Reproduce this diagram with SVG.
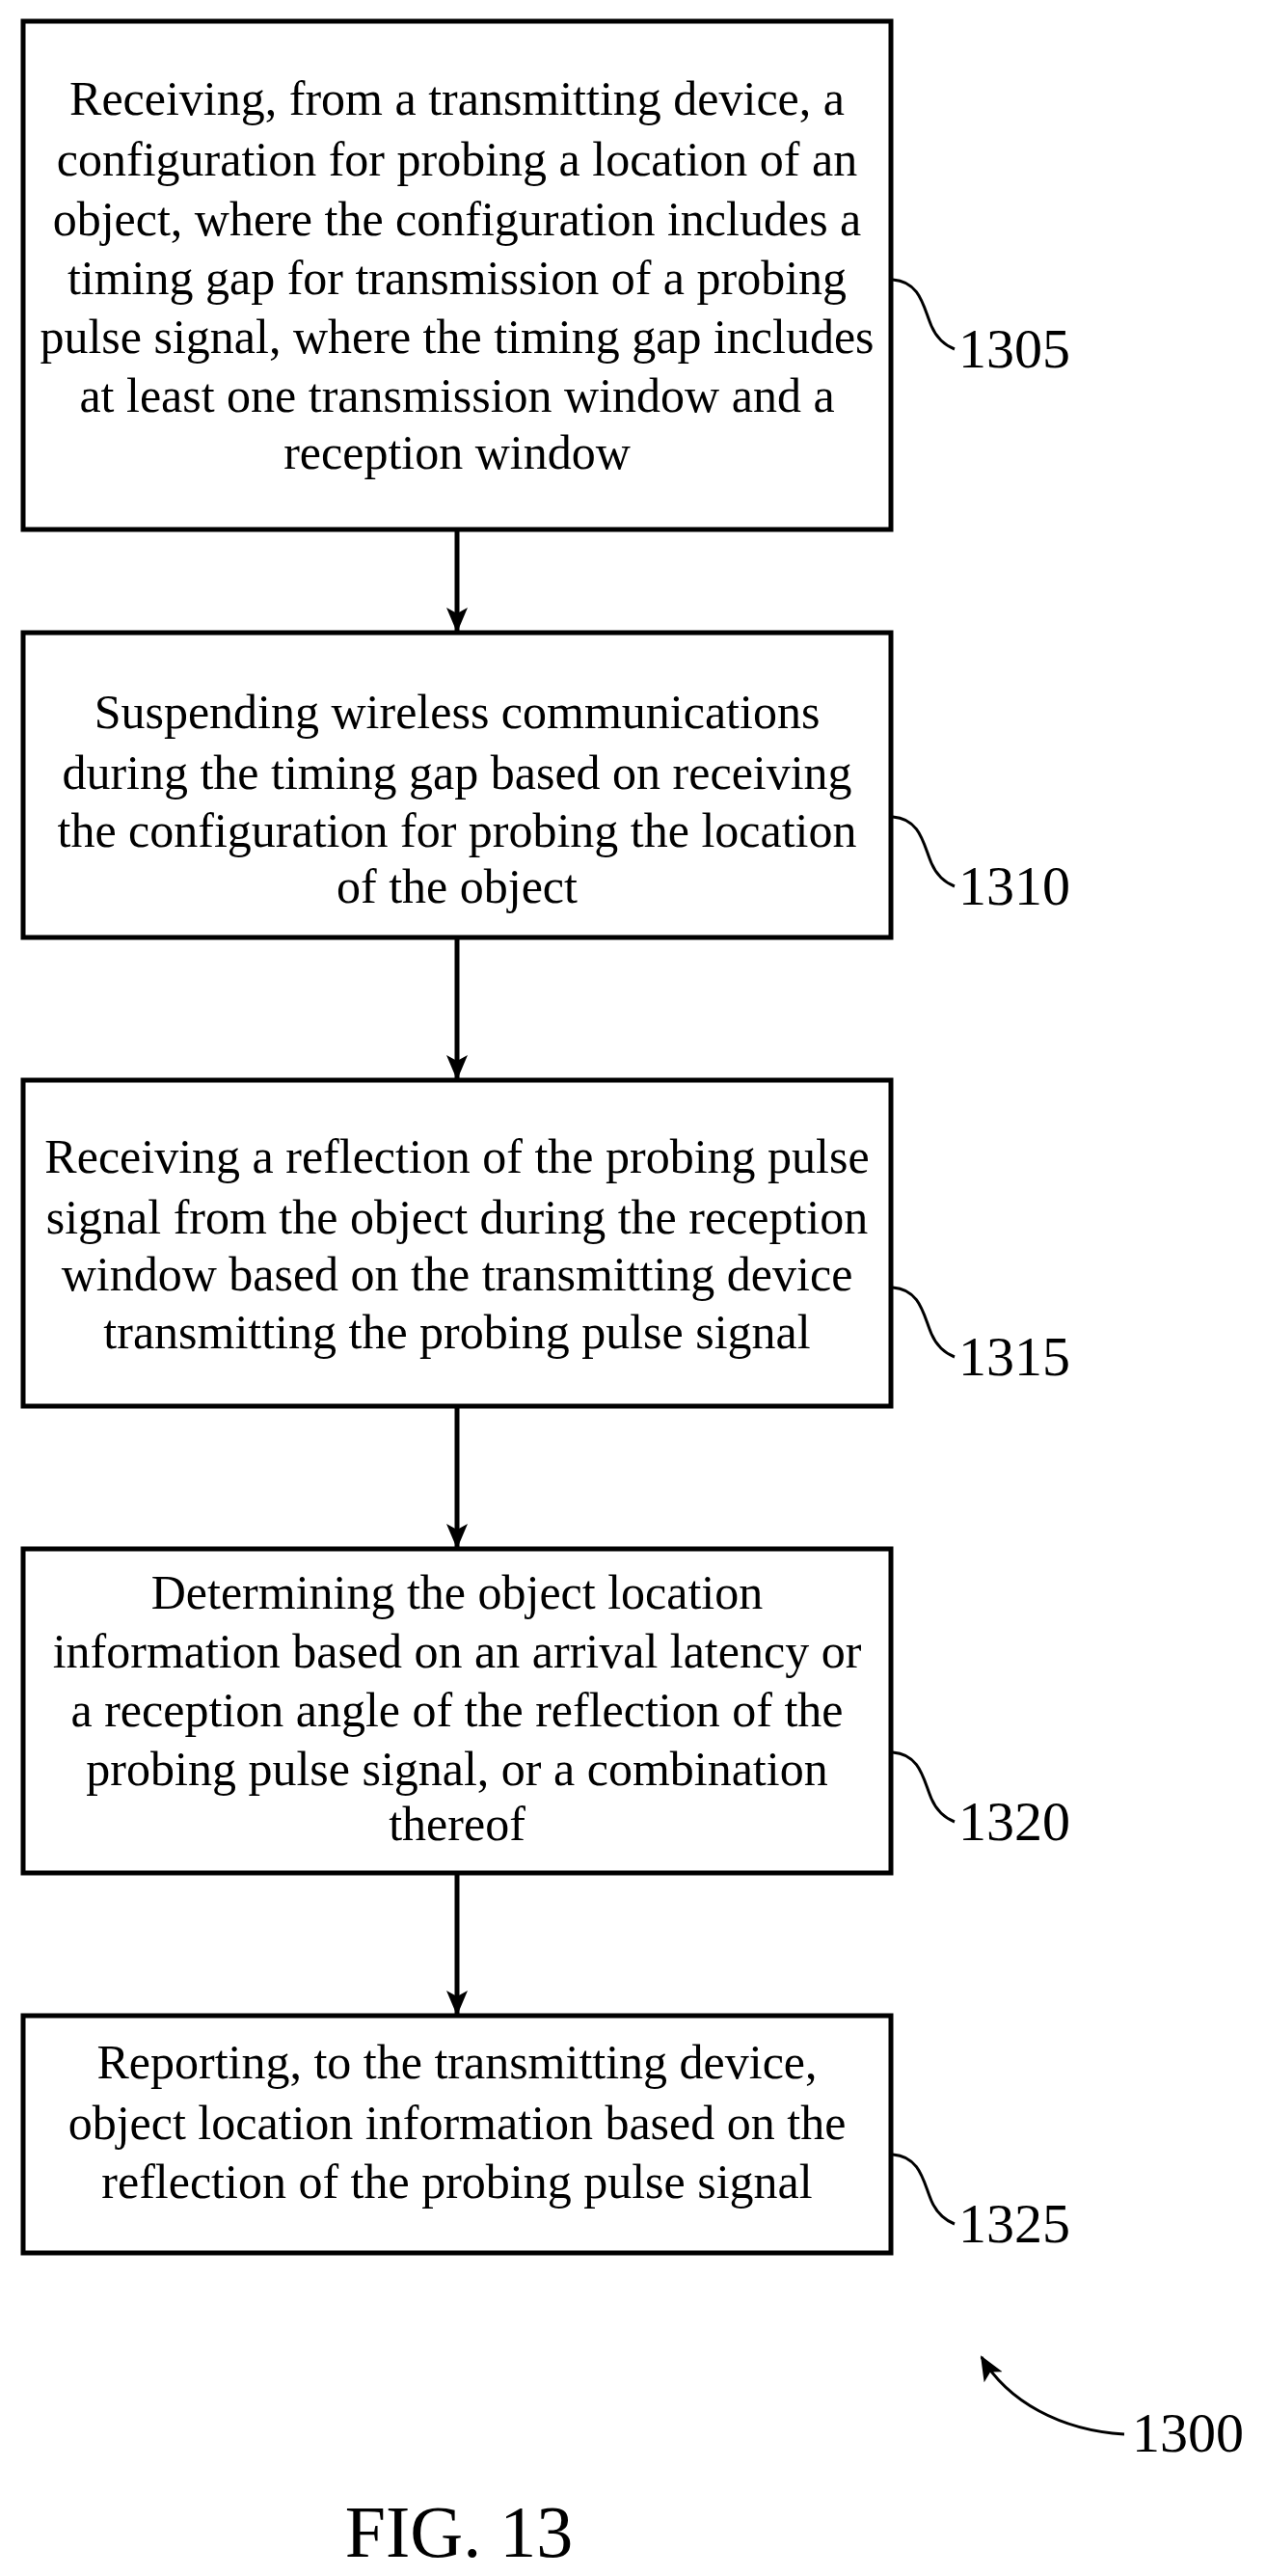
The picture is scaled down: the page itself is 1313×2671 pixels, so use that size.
<svg xmlns="http://www.w3.org/2000/svg" width="1313" height="2671" viewBox="0 0 1313 2671">
<style>
.b{fill:#fff;stroke:#000;stroke-width:5}
.t{font-family:"Liberation Serif",serif;font-size:50px;text-anchor:middle;fill:#000}
.l{font-family:"Liberation Serif",serif;font-size:58px;fill:#000}
.c{fill:none;stroke:#000;stroke-width:3}
.a{fill:none;stroke:#000;stroke-width:5}
</style>
<defs>
<marker id="ah2" markerWidth="26" markerHeight="26" refX="24" refY="13" orient="auto" markerUnits="userSpaceOnUse" viewBox="0 0 26 26"><path d="M0,2L26,13L0,24L6,13z" fill="#000"/></marker></defs>
<g id="n1305"><rect class="b" x="24" y="22" width="900" height="527"/>
<text class="t"><tspan x="474" y="119">Receiving, from a transmitting device, a</tspan><tspan x="474" y="182">configuration for probing a location of an</tspan><tspan x="474" y="244">object, where the configuration includes a</tspan><tspan x="474" y="305">timing gap for transmission of a probing</tspan><tspan x="474" y="366">pulse signal, where the timing gap includes</tspan><tspan x="474" y="427">at least one transmission window and a</tspan><tspan x="474" y="486">reception window</tspan></text>
<path class="c" d="M926,290 C955,292 958,320 966,338 C972,352 980,358 990,362"/><text class="l" x="994" y="381">1305</text></g>
<g id="n1310"><rect class="b" x="24" y="656" width="900" height="316"/>
<text class="t"><tspan x="474" y="755">Suspending wireless communications</tspan><tspan x="474" y="818">during the timing gap based on receiving</tspan><tspan x="474" y="878">the configuration for probing the location</tspan><tspan x="474" y="936">of the object</tspan></text>
<path class="c" d="M926,847 C955,849 958,877 966,895 C972,909 980,915 990,919"/><text class="l" x="994" y="938">1310</text></g>
<g id="n1315"><rect class="b" x="24" y="1120" width="900" height="338"/>
<text class="t"><tspan x="474" y="1216">Receiving a reflection of the probing pulse</tspan><tspan x="474" y="1279">signal from the object during the reception</tspan><tspan x="474" y="1338">window based on the transmitting device</tspan><tspan x="474" y="1398">transmitting the probing pulse signal</tspan></text>
<path class="c" d="M926,1335 C955,1337 958,1365 966,1383 C972,1397 980,1403 990,1407"/><text class="l" x="994" y="1426">1315</text></g>
<g id="n1320"><rect class="b" x="24" y="1606" width="900" height="336"/>
<text class="t"><tspan x="474" y="1668">Determining the object location</tspan><tspan x="474" y="1729">information based on an arrival latency or</tspan><tspan x="474" y="1790">a reception angle of the reflection of the</tspan><tspan x="474" y="1851">probing pulse signal, or a combination</tspan><tspan x="474" y="1908">thereof</tspan></text>
<path class="c" d="M926,1817 C955,1819 958,1847 966,1865 C972,1879 980,1885 990,1889"/><text class="l" x="994" y="1908">1320</text></g>
<g id="n1325"><rect class="b" x="24" y="2090" width="900" height="246"/>
<text class="t"><tspan x="474" y="2155">Reporting, to the transmitting device,</tspan><tspan x="474" y="2218">object location information based on the</tspan><tspan x="474" y="2279">reflection of the probing pulse signal</tspan></text>
<path class="c" d="M926,2234 C955,2236 958,2264 966,2282 C972,2296 980,2302 990,2306"/><text class="l" x="994" y="2325">1325</text></g>
<g id="connectors">
<line class="a" x1="474" y1="549" x2="474" y2="654" marker-end="url(#ah2)"/>
<line class="a" x1="474" y1="972" x2="474" y2="1118" marker-end="url(#ah2)"/>
<line class="a" x1="474" y1="1458" x2="474" y2="1604" marker-end="url(#ah2)"/>
<line class="a" x1="474" y1="1942" x2="474" y2="2088" marker-end="url(#ah2)"/>
</g>
<g id="n1300"><path d="M1166,2524 C1100,2520 1045,2490 1018,2444" fill="none" stroke="#000" stroke-width="3" marker-end="url(#ah2)"/><text class="l" x="1174" y="2542">1300</text></g>
<text x="476" y="2651" font-family="Liberation Serif,serif" font-size="76" text-anchor="middle">FIG. 13</text>
</svg>
